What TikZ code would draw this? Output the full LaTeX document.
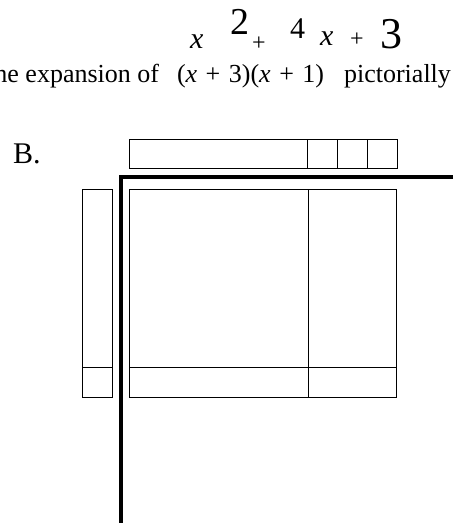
\documentclass[tikz,border=0pt]{standalone}
\usepackage{fontspec}
\setmainfont{Liberation Serif}
\usetikzlibrary{positioning}

\begin{document}
\begin{tikzpicture}[x=1pt, y=-1pt,
    tile/.style={draw, line width=0.9pt},
    axis/.style={draw, line width=3.2pt},
    prompt/.style={font=\fontsize{26}{30}\selectfont, inner sep=0pt},
    hand/.style={font=\fontsize{30}{32}\selectfont, inner sep=0pt}
]
\useasboundingbox (0,0) rectangle (453,525);
\clip (0,0) rectangle (453,525);

% Question text
\node[prompt, anchor=base west] (question) at (-13,82) {the expansion of\hspace{18pt}(\textit{x}\hspace{8.5pt}+\hspace{8.5pt}3)(\textit{x}\hspace{8.5pt}+\hspace{8.5pt}1)\hspace{20pt}pictorially};

% Handwritten answer
\node[hand, anchor=base west] (answer) at (190,48) {\makebox[40pt][l]{\textit{x}}\makebox[22pt][l]{\raisebox{14pt}{\fontsize{38}{38}\selectfont 2}}\makebox[38pt][l]{\raisebox{-2pt}{\fontsize{24}{24}\selectfont +}}\makebox[30pt][l]{\raisebox{10pt}{4}}\makebox[30pt][l]{\raisebox{3pt}{\textit{x}}}\makebox[30pt][l]{\raisebox{2pt}{\fontsize{24}{24}\selectfont +}}{\fontsize{44}{44}\selectfont 3}};

% Option letter
\node[font=\fontsize{30}{34}\selectfont, anchor=base west, inner sep=0pt] (opt) at (13,163) {B.};

% Length strip: x and three units
\draw[tile] (129,139) rectangle (397,168);
\foreach \u in {307,337,367}
    \draw[tile] (\u,139) -- (\u,168);

% Axes
\draw[axis] (453,177) -- (121,177) -- (121,523);

% Width strip: x and one unit
\draw[tile] (82,189) rectangle (112,397);
\draw[tile] (82,367) -- (112,367);

% Product area
\draw[tile] (129,189) rectangle (396,397);
\draw[tile] (308,189) -- (308,397);
\draw[tile] (129,367) -- (396,367);

\end{tikzpicture}
\end{document}
